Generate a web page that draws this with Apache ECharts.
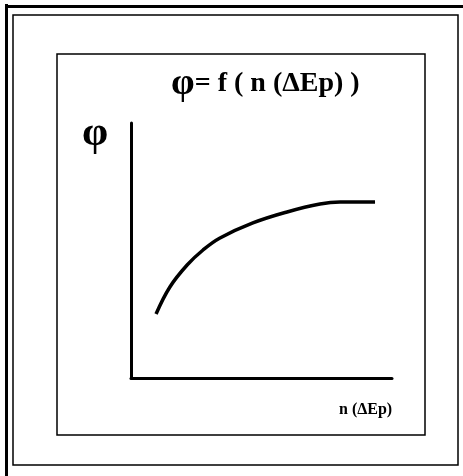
<!DOCTYPE html>
<html>
<head>
<meta charset="utf-8">
<script src="https://cdn.jsdelivr.net/npm/echarts@6/dist/echarts.min.js"></script>
<style>
  html, body { margin: 0; padding: 0; background: #fff; }
  #chart { width: 463px; height: 476px; }
</style>
</head>
<body>
<div id="chart"></div>
<script>
// curve (arbitrary 0-100 units on both axes)
const nValues = [9.6, 14.9, 21.5, 27.6, 34.1, 46.7, 59.8, 72.4, 80.1, 93.5]
const phiValues = [25.1, 35.7, 44.3, 50.2, 54.9, 60.8, 65.1, 68.2, 69.0, 69.0]

const titlePhi = 'φ'
const titleRest = '= f ( n (ΔEp) )'
const yName = 'φ'
const xName = 'n (ΔEp)'

const chart = echarts.init(document.getElementById('chart'), null, { renderer: 'canvas' })

const serif = '"Liberation Serif", "DejaVu Serif", serif'

chart.setOption({
  backgroundColor: '#fff',
  animation: false,
  title: [
    {
      text: '{p|' + titlePhi + '}{r|' + titleRest + '}',
      left: 166,
      top: 60,
      textStyle: {
        rich: {
          p: { fontFamily: serif, fontSize: 38, fontWeight: 'bold', color: '#000' },
          r: { fontFamily: serif, fontSize: 28, fontWeight: 'bold', color: '#000' }
        }
      }
    },
    {
      text: yName,
      left: 77,
      top: 108,
      textStyle: { fontFamily: serif, fontSize: 42, fontWeight: 'bold', color: '#000' }
    },
    {
      text: xName,
      left: 334,
      top: 397,
      textStyle: { fontFamily: serif, fontSize: 16, fontWeight: 'bold', color: '#000' }
    }
  ],
  graphic: [
    // thick outer frame (left and top)
    { type: 'line', shape: { x1: 6.5, y1: 4, x2: 6.5, y2: 476 }, style: { stroke: '#000', lineWidth: 3 } },
    { type: 'line', shape: { x1: 5, y1: 6.5, x2: 463, y2: 6.5 }, style: { stroke: '#000', lineWidth: 3 } },
    // thin frame
    { type: 'rect', shape: { x: 13, y: 15, width: 445, height: 450 }, style: { fill: 'none', stroke: '#000', lineWidth: 1.5 } },
    // inner box
    { type: 'rect', shape: { x: 57, y: 54, width: 368, height: 381 }, style: { fill: 'none', stroke: '#000', lineWidth: 1.5 } }
  ],
  grid: { left: 131, right: 71, top: 123, bottom: 98 },
  xAxis: {
    type: 'value',
    min: 0,
    max: 100,
    axisLine: { show: true, lineStyle: { color: '#000', width: 3 } },
    axisTick: { show: false },
    axisLabel: { show: false },
    splitLine: { show: false }
  },
  yAxis: {
    type: 'value',
    min: 0,
    max: 100,
    axisLine: { show: true, lineStyle: { color: '#000', width: 3 } },
    axisTick: { show: false },
    axisLabel: { show: false },
    splitLine: { show: false }
  },
  series: [
    {
      type: 'line',
      data: nValues.map((n, i) => [n, phiValues[i]]),
      smooth: 0.4,
      showSymbol: false,
      lineStyle: { color: '#000', width: 3.5 }
    }
  ]
})
</script>
</body>
</html>
